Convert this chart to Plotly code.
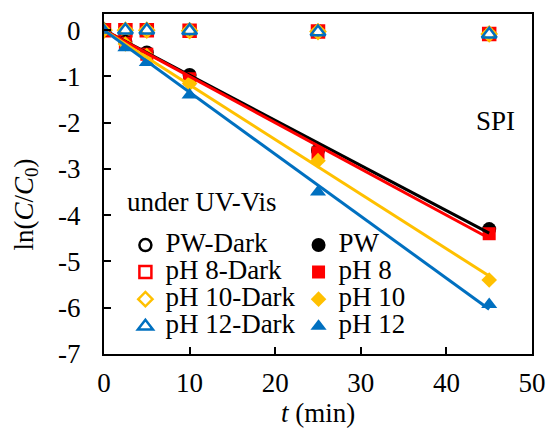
import numpy as np
import plotly.graph_objects as go

t = [0, 2.5, 5, 10, 25, 45]
pw_dark = [0, 0, 0, -0.01, -0.03, -0.08]
ph8_dark = [0, 0, 0, -0.01, -0.03, -0.08]
ph10_dark = [0, 0, 0, -0.01, -0.03, -0.08]
ph12_dark = [0, 0, 0, -0.01, -0.04, -0.09]
pw = [0, -0.25, -0.48, -0.97, -2.6, -4.3]
ph8 = [0, -0.28, -0.52, -1.05, -2.65, -4.4]
ph10 = [0, -0.3, -0.55, -1.15, -2.82, -5.4]
ph12 = [0, -0.38, -0.7, -1.4, -3.5, -5.93]

x_ticks = [0, 10, 20, 30, 40, 50]
y_ticks = [0, -1, -2, -3, -4, -5, -6, -7]
y_tick_labels = ["0", "-1", "-2", "-3", "-4", "-5", "-6", "-7"]

names_dark = ["PW-Dark", "pH 8-Dark", "pH 10-Dark", "pH 12-Dark"]
names_uv = ["PW", "pH 8", "pH 10", "pH 12"]
colors = ["#000000", "#FF0000", "#FFC000", "#0070C0"]
symbols = ["circle", "square", "diamond", "triangle-up"]
dark_sizes = [12, 12, 11, 13]
uv_sizes = [14, 13, 12, 14]

FONT = "Liberation Serif"
TXT = 27

fig = go.Figure()

dark_series = [pw_dark, ph8_dark, ph10_dark, ph12_dark]
uv_series = [pw, ph8, ph10, ph12]

for name, ys, c, s, sz in zip(names_dark, dark_series, colors, symbols, dark_sizes):
    fig.add_trace(go.Scatter(
        x=t, y=ys, mode="markers", name=f'<span style="font-size:{TXT}px">{name}</span>',
        marker=dict(symbol=s + "-open", size=sz, color=c, line=dict(width=2.5, color=c)),
        legend="legend", showlegend=True))

for name, ys, c, s, sz in zip(names_uv, uv_series, colors, symbols, uv_sizes):
    fig.add_trace(go.Scatter(
        x=t, y=ys, mode="markers", name=f'<span style="font-size:{TXT}px">{name}</span>',
        marker=dict(symbol=s, size=sz, color=c, line=dict(width=0)),
        legend="legend2", showlegend=True))

# linear fits through origin (trendlines)
ta = np.array(t)
for ys, c in zip(uv_series, colors):
    ya = np.array(ys)
    k = float((ta * ya).sum() / (ta * ta).sum())
    xf = [ta.min(), ta.max()]
    fig.add_trace(go.Scatter(x=xf, y=[k * v for v in xf], mode="lines",
                             line=dict(color=c, width=3), showlegend=False,
                             hoverinfo="skip"))

axis_common = dict(
    showgrid=False, zeroline=False, showline=True, linecolor="black", linewidth=2,
    mirror=True, ticks="inside", ticklen=7, tickwidth=1.5, tickcolor="black",
    tickfont=dict(family=FONT, size=TXT, color="black"),
)

pl, pr, pt, pb = 104, 14, 13, 76
pw_px, ph_px = 558 - pl - pr, 430 - pt - pb

fig.update_layout(
    width=558, height=430,
    margin=dict(l=pl, r=pr, t=pt, b=pb),
    paper_bgcolor="white", plot_bgcolor="white",
    font=dict(family=FONT, size=TXT, color="black"),
    xaxis=dict(range=[0, 50], tickvals=x_ticks, ticklabelstandoff=4, **axis_common),
    yaxis=dict(range=[-7, 0.35], tickvals=y_ticks, ticktext=y_tick_labels,
               ticklabelstandoff=16, **axis_common),
    legend=dict(x=(126 - pl) / pw_px, y=0.375, xanchor="left", yanchor="top", bgcolor="rgba(0,0,0,0)",
                font=dict(family=FONT, size=18.5, color="black"), tracegroupgap=0),
    legend2=dict(x=(304 - pl) / pw_px, y=0.375, xanchor="left", yanchor="top", bgcolor="rgba(0,0,0,0)",
                 font=dict(family=FONT, size=18.5, color="black"), tracegroupgap=0),
    annotations=[
        dict(text="under UV-Vis", x=(205 - pl) / pw_px, y=(430 - pb - 202) / ph_px,
             xref="paper", yref="paper",
             showarrow=False, xanchor="center", yanchor="middle", font=dict(size=TXT)),
        dict(text="SPI", x=(506 - pl) / pw_px, y=(430 - pb - 120) / ph_px,
             xref="paper", yref="paper",
             showarrow=False, xanchor="center", yanchor="middle", font=dict(size=TXT)),
        dict(text="ln(<i>C</i>/<i>C</i><sub>0</sub>)", x=(24 - pl) / pw_px, y=(430 - pb - 204) / ph_px,
             xref="paper", yref="paper",
             showarrow=False, textangle=-90, xanchor="center", yanchor="middle", font=dict(size=TXT)),
        dict(text="<i>t</i> (min)", x=0.5, y=(430 - pb - 413) / ph_px, xref="paper", yref="paper",
             showarrow=False, xanchor="center", yanchor="middle", font=dict(size=TXT)),
    ],
)

fig.write_html("out.html")
